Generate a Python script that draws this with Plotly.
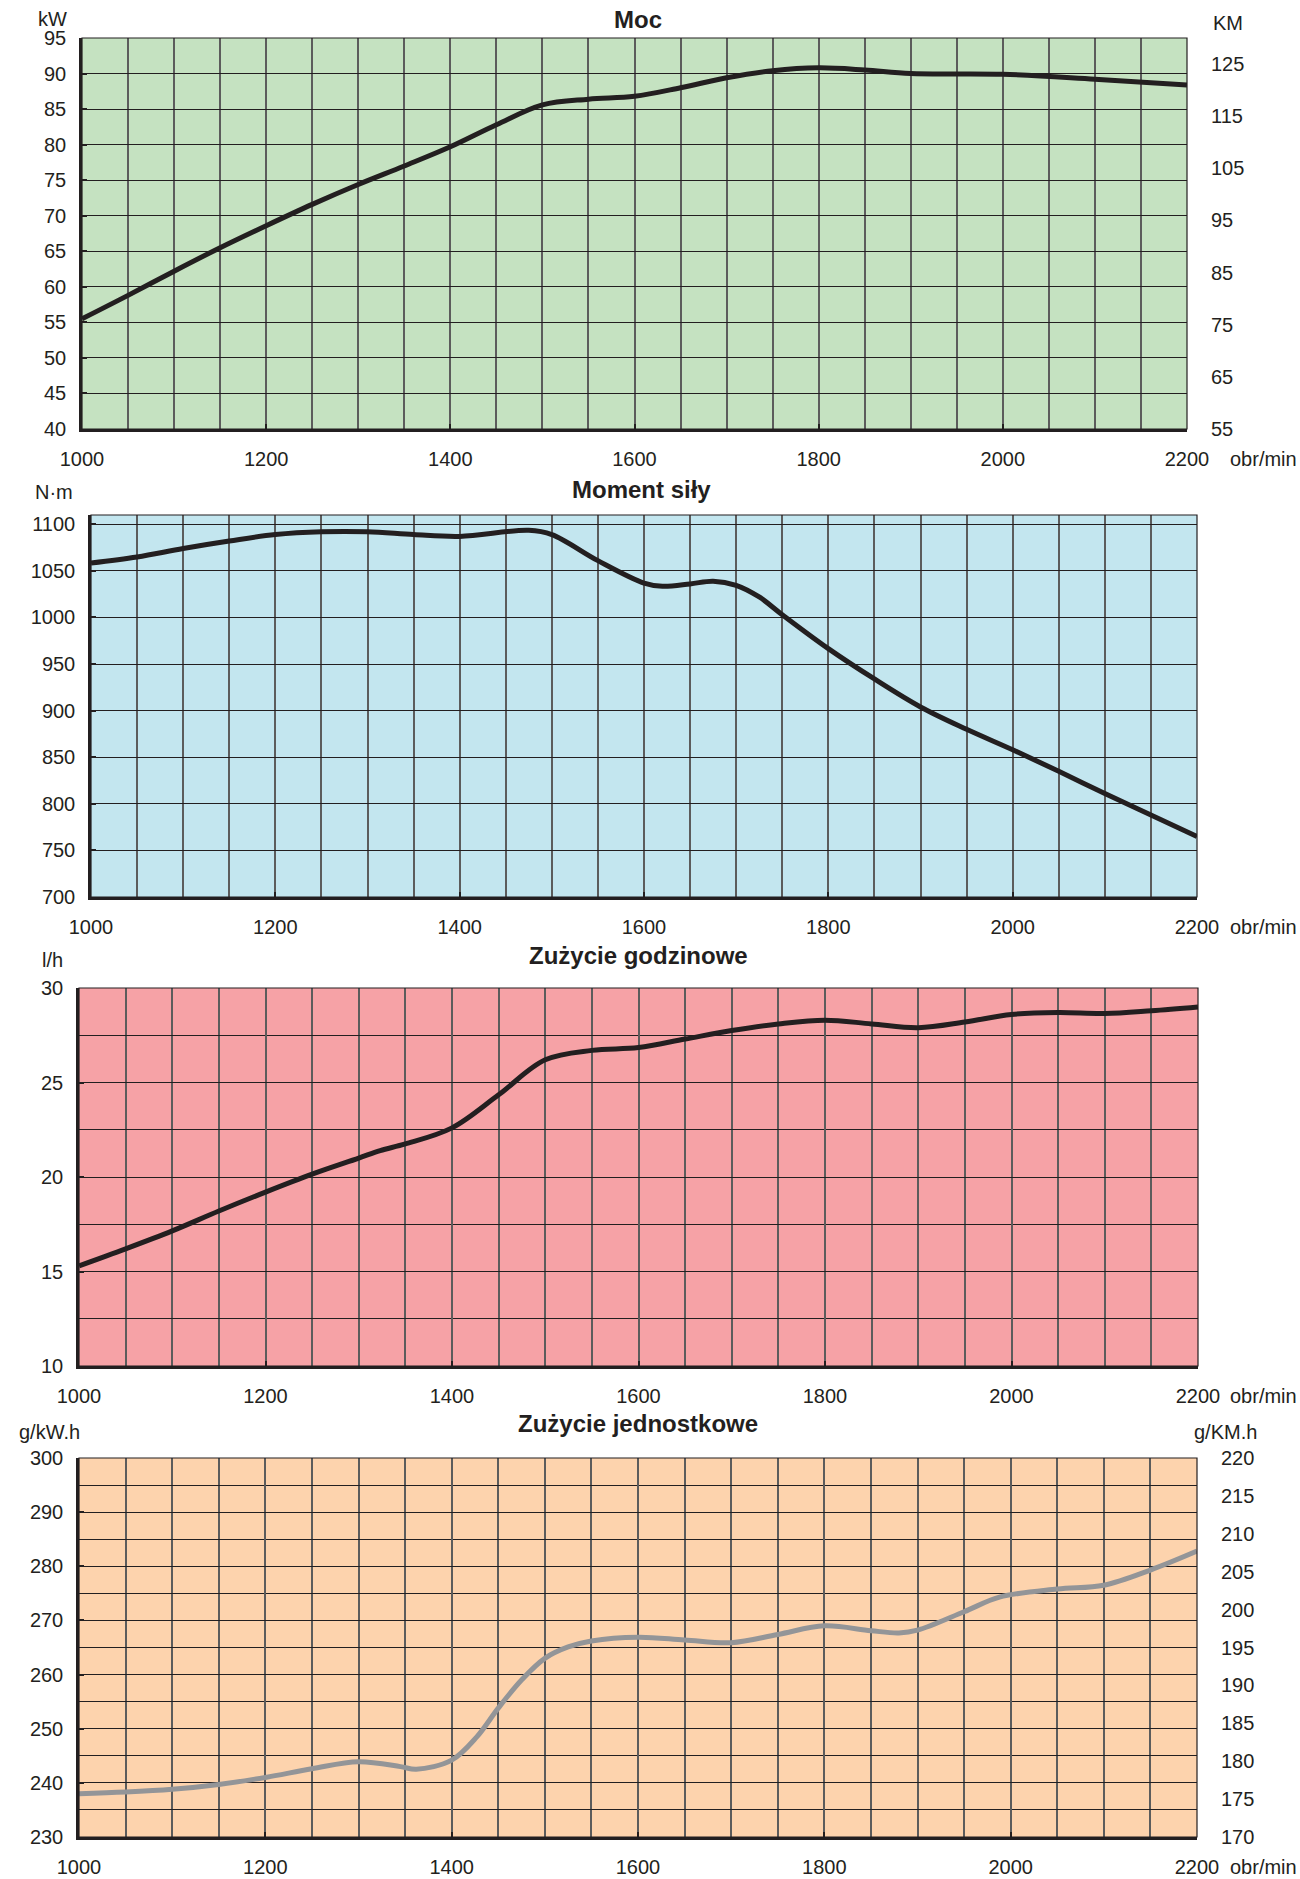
import plotly.graph_objects as go

W, H = 1300, 1879

# ---------------- data ----------------
rpm_power = [1000, 1050, 1100, 1150, 1200, 1250, 1300, 1350, 1400, 1450, 1500, 1550, 1600,
             1650, 1700, 1750, 1800, 1850, 1900, 2000, 2100, 2200]
power_kw = [55.5, 58.8, 62.2, 65.5, 68.6, 71.6, 74.4, 77.0, 79.7, 82.8, 85.6, 86.4, 86.8,
            88.0, 89.4, 90.4, 90.8, 90.5, 90.0, 89.9, 89.2, 88.4]

rpm_torque = [1000, 1050, 1100, 1150, 1200, 1250, 1300, 1350, 1400, 1475, 1500, 1550,
              1600, 1620, 1650, 1675, 1700, 1725, 1750, 1800, 1850, 1900, 1950, 2000, 2050,
              2100, 2150, 2200]
torque_nm = [1058.5, 1065, 1074, 1082, 1089, 1092, 1092, 1089, 1087, 1093.5, 1089, 1061,
             1037, 1033.5, 1036, 1039, 1034.5, 1022, 1003, 966.6, 934, 904, 880, 858, 835,
             811, 788, 765]

rpm_hourly = [1000, 1050, 1100, 1150, 1200, 1250, 1300, 1323, 1350, 1400, 1450, 1500, 1550,
              1600, 1650, 1700, 1750, 1800, 1850, 1900, 1950, 2000, 2050, 2100, 2150, 2200]
hourly_lh = [15.3, 16.2, 17.15, 18.2, 19.2, 20.15, 21.0, 21.4, 21.75, 22.6, 24.35, 26.2, 26.7,
             26.85, 27.3, 27.75, 28.1, 28.3, 28.1, 27.9, 28.2, 28.6, 28.7, 28.65, 28.8, 29.0]

rpm_specific = [1000, 1050, 1100, 1150, 1200, 1250, 1300, 1345, 1362, 1400, 1427, 1450, 1475,
                1500, 1525, 1550, 1600, 1650, 1700, 1750, 1800, 1850, 1880, 1900, 1950, 1988,
                2050, 2100, 2150, 2200]
specific_g = [238.0, 238.3, 238.8, 239.7, 241.0, 242.6, 243.9, 243.0, 242.5, 244.2, 248.5, 253.8,
              259.0, 263.0, 265.1, 266.2, 266.9, 266.4, 265.9, 267.4, 269.0, 268.1, 267.7, 268.2,
              271.6, 274.3, 275.8, 276.5, 279.3, 282.8]

titles = ["Moc", "Moment siły", "Zużycie godzinowe", "Zużycie jednostkowe"]
x_unit = "obr/min"

# ---------------- style ----------------
FONT = "Liberation Sans, Arial, sans-serif"
INK = "#231f20"
VGRID = "#5c5c5c"
BG = ["#c5e2c1", "#c3e6ef", "#f6a2a6", "#fdd3ad"]
LINE_COL = [INK, INK, INK, "#939598"]
TF = dict(family=FONT, size=20, color=INK)

# panel pixel boxes: left, right, top, bottom
boxes = [(82, 1187, 38, 429), (91, 1197, 515, 897), (79, 1198, 988, 1366), (79, 1197, 1458, 1837)]


def xd(px):
    return px / W


def yd(py):
    return 1 - py / H


fig = go.Figure()
series = [(rpm_power, power_kw), (rpm_torque, torque_nm), (rpm_hourly, hourly_lh),
          (rpm_specific, specific_g)]
for i, (xs, ys) in enumerate(series):
    n = "" if i == 0 else str(i + 1)
    fig.add_trace(go.Scatter(x=xs, y=ys, mode="lines", xaxis="x" + n, yaxis="y" + n,
                             line=dict(color=LINE_COL[i], width=5, shape="spline", smoothing=1.0),
                             showlegend=False, hoverinfo="skip"))

yconf = [
    dict(range=[40, 95], dtick=5, tick0=40),
    dict(range=[700, 1110], dtick=50, tick0=700),
    dict(range=[10, 30], dtick=5, tick0=10, minor=dict(dtick=2.5, showgrid=True, gridcolor=INK, gridwidth=1, ticks="")),
    dict(range=[230, 300], dtick=10, tick0=230, minor=dict(dtick=5, showgrid=True, gridcolor=INK, gridwidth=1, ticks="")),
]

layout = dict(width=W, height=H, autosize=False,
              margin=dict(l=0, r=0, t=0, b=0, pad=0, autoexpand=False),
              paper_bgcolor="white", plot_bgcolor="rgba(0,0,0,0)", showlegend=False,
              font=dict(family=FONT, color=INK))
shapes = []
annotations = []
for i, (l, r, t, b) in enumerate(boxes):
    n = "" if i == 0 else str(i + 1)
    layout["xaxis" + n] = dict(
        domain=[xd(l), xd(r)], anchor="y" + n, range=[1000, 2200], dtick=200, tick0=1000,
        showgrid=True, gridcolor=VGRID, gridwidth=1.5,
        minor=dict(dtick=50, showgrid=True, gridcolor=VGRID, gridwidth=1.5, ticks=""),
        showline=True, linecolor=INK, linewidth=2.5, ticks="inside", ticklen=5, tickwidth=2,
        tickcolor=INK, tickfont=TF, zeroline=False, ticklabelstandoff=10, automargin=False,
        fixedrange=True)
    ya = dict(domain=[yd(b), yd(t)], anchor="x" + n, showgrid=True, gridcolor=INK, gridwidth=1,
              showline=True, linecolor=INK, linewidth=2.5, ticks="inside", ticklen=5, tickwidth=2,
              tickcolor=INK, tickfont=TF, zeroline=False, ticklabelstandoff=9, automargin=False,
              fixedrange=True)
    ya.update(yconf[i])
    layout["yaxis" + n] = ya
    shapes.append(dict(type="rect", xref="x%s domain" % n, yref="y%s domain" % n, x0=0, x1=1, y0=0, y1=1,
                       fillcolor=BG[i], line=dict(width=0), layer="below"))
    shapes.append(dict(type="rect", xref="x%s domain" % n, yref="y%s domain" % n, x0=0, x1=1, y0=0, y1=1,
                       fillcolor="rgba(0,0,0,0)", line=dict(width=1.2, color=INK), layer="above"))
    # x unit label
    annotations.append(dict(text=x_unit, xref="paper", yref="paper", x=xd(1228), y=yd(b + 30),
                            xanchor="left", yanchor="middle", showarrow=False, font=TF))

# right-hand axes
layout["yaxis5"] = dict(overlaying="y", side="right", anchor="x", range=[55, 130], dtick=10, tick0=55,
                        showgrid=False, showline=False, ticks="", tickfont=TF, zeroline=False,
                        ticklabelstandoff=23, automargin=False, fixedrange=True)
layout["yaxis6"] = dict(overlaying="y4", side="right", anchor="x4", range=[170, 220], dtick=5, tick0=170,
                        showgrid=False, showline=False, ticks="", tickfont=TF, zeroline=False,
                        ticklabelstandoff=23, automargin=False, fixedrange=True)
fig.add_trace(go.Scatter(x=[None], y=[None], xaxis="x", yaxis="y5", showlegend=False, hoverinfo="skip"))
fig.add_trace(go.Scatter(x=[None], y=[None], xaxis="x4", yaxis="y6", showlegend=False, hoverinfo="skip"))

# titles
title_pos = [(638, 19), (641, 490), (638, 955), (638, 1423)]
for txt, (px, py) in zip(titles, title_pos):
    annotations.append(dict(text="<b>%s</b>" % txt, xref="paper", yref="paper", x=xd(px), y=yd(py),
                            xanchor="center", yanchor="middle", showarrow=False,
                            font=dict(family=FONT, size=24, color=INK)))

# unit labels
units = [("kW", 53, 19), ("KM", 1228, 23), ("N·m", 54, 492), ("l/h", 53, 960),
         ("g/kW.h", 49, 1432), ("g/KM.h", 1225, 1432)]
for txt, px, py in units:
    annotations.append(dict(text=txt, xref="paper", yref="paper", x=xd(px), y=yd(py),
                            xanchor="center", yanchor="middle", showarrow=False, font=TF))

layout["shapes"] = shapes
layout["annotations"] = annotations
fig.update_layout(**layout)
fig.write_html("out.html", config={"displayModeBar": False, "responsive": False},
               post_script="document.body.style.margin='0';document.body.style.overflow='hidden';")
